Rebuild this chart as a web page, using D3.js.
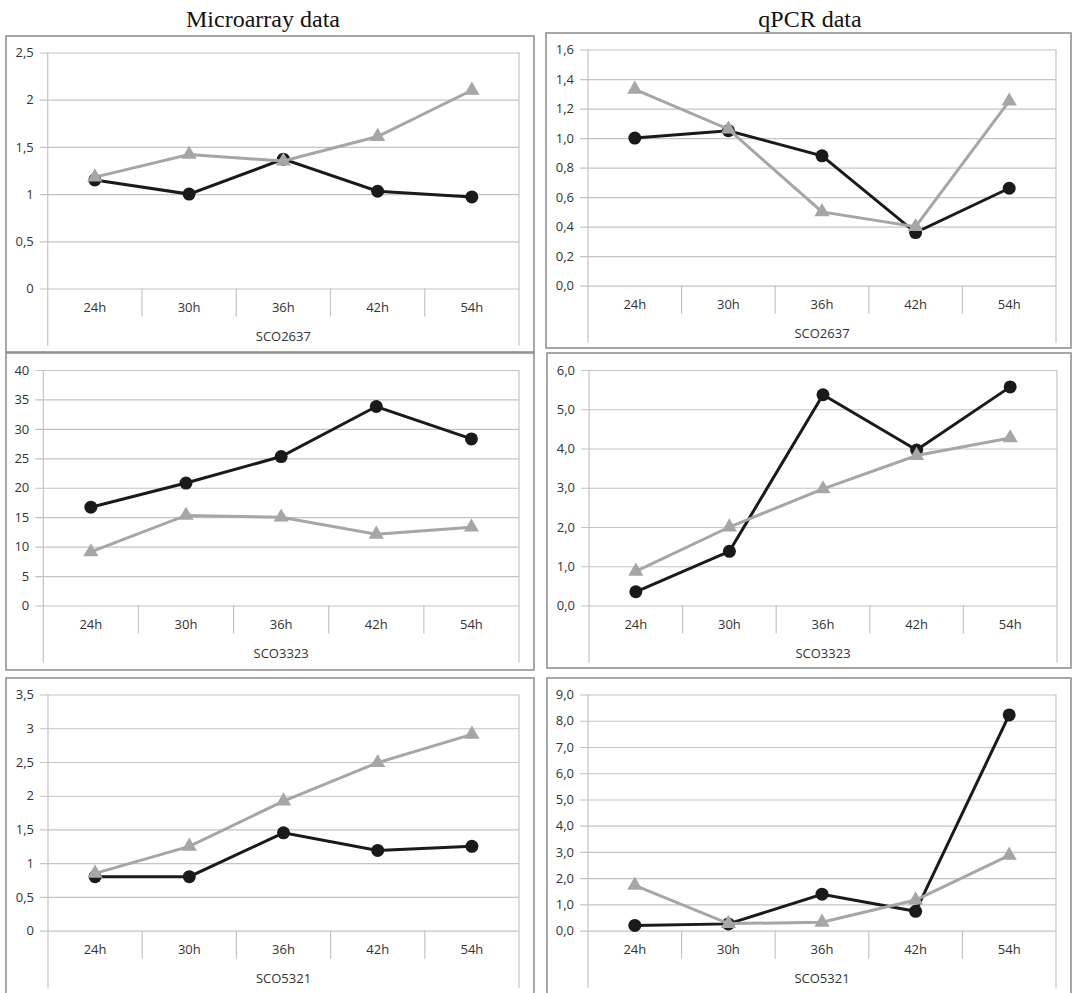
<!DOCTYPE html>
<html>
<head>
<meta charset="utf-8">
<script src="https://cdn.jsdelivr.net/npm/d3@7"></script>
<style>
  body { margin: 0; background: #fff; }
  .tick text { fill: #333; font-family: "Open Sans", sans-serif; font-size: 13px; }
  .catLabel, .groupLabel { fill: #333; font-family: "Open Sans", sans-serif; font-size: 13px; }
  .colTitle { fill: #111; font-family: "Liberation Serif", serif; font-size: 24px; }
</style>
</head>
<body>
<div id="chart"></div>
<script>
// data
var timepoints = ["24h", "30h", "36h", "42h", "54h"];
var columnTitles = ["Microarray data", "qPCR data"];
var genes = ["SCO2637", "SCO3323", "SCO5321"];

// black line with circles / gray line with triangles
var microSCO2637Black = [1.15, 1.0, 1.37, 1.03, 0.97];
var microSCO2637Gray = [1.18, 1.42, 1.35, 1.61, 2.10];
var qpcrSCO2637Black = [1.00, 1.05, 0.88, 0.36, 0.66];
var qpcrSCO2637Gray = [1.33, 1.06, 0.50, 0.40, 1.25];

var microSCO3323Black = [16.7, 20.8, 25.3, 33.8, 28.3];
var microSCO3323Gray = [9.1, 15.3, 15.0, 12.1, 13.3];
var qpcrSCO3323Black = [0.35, 1.38, 5.37, 3.96, 5.57];
var qpcrSCO3323Gray = [0.87, 2.00, 2.97, 3.82, 4.27];

var microSCO5321Black = [0.80, 0.80, 1.45, 1.19, 1.25];
var microSCO5321Gray = [0.85, 1.25, 1.92, 2.49, 2.91];
var qpcrSCO5321Black = [0.20, 0.26, 1.39, 0.74, 8.22];
var qpcrSCO5321Gray = [1.73, 0.27, 0.32, 1.17, 2.87];

// y tick values and labels
var ticksMicro2637 = [0, 0.5, 1, 1.5, 2, 2.5];
var labelsMicro2637 = ["0", "0,5", "1", "1,5", "2", "2,5"];
var ticksQpcr2637 = [0, 0.2, 0.4, 0.6, 0.8, 1.0, 1.2, 1.4, 1.6];
var labelsQpcr2637 = ["0,0", "0,2", "0,4", "0,6", "0,8", "1,0", "1,2", "1,4", "1,6"];
var ticksMicro3323 = [0, 5, 10, 15, 20, 25, 30, 35, 40];
var labelsMicro3323 = ["0", "5", "10", "15", "20", "25", "30", "35", "40"];
var ticksQpcr3323 = [0, 1, 2, 3, 4, 5, 6];
var labelsQpcr3323 = ["0,0", "1,0", "2,0", "3,0", "4,0", "5,0", "6,0"];
var ticksMicro5321 = [0, 0.5, 1, 1.5, 2, 2.5, 3, 3.5];
var labelsMicro5321 = ["0", "0,5", "1", "1,5", "2", "2,5", "3", "3,5"];
var ticksQpcr5321 = [0, 1, 2, 3, 4, 5, 6, 7, 8, 9];
var labelsQpcr5321 = ["0,0", "1,0", "2,0", "3,0", "4,0", "5,0", "6,0", "7,0", "8,0", "9,0"];

// panels: box = frame, plot = left, top (max value), right, bottom (zero)
var panels = [
  { gene: 0, black: microSCO2637Black, gray: microSCO2637Gray, ticks: ticksMicro2637, labels: labelsMicro2637,
    box: [6, 36, 534, 352], plot: [47.7, 52.5, 519, 288.5] },
  { gene: 0, black: qpcrSCO2637Black, gray: qpcrSCO2637Gray, ticks: ticksQpcr2637, labels: labelsQpcr2637,
    box: [546, 33, 1071, 348], plot: [588, 49.5, 1056, 285.7] },
  { gene: 1, black: microSCO3323Black, gray: microSCO3323Gray, ticks: ticksMicro3323, labels: labelsMicro3323,
    box: [6, 353, 534, 670], plot: [43.3, 370, 519, 605.5] },
  { gene: 1, black: qpcrSCO3323Black, gray: qpcrSCO3323Gray, ticks: ticksQpcr3323, labels: labelsQpcr3323,
    box: [547, 353, 1071, 668], plot: [589, 370, 1057, 605.5] },
  { gene: 2, black: microSCO5321Black, gray: microSCO5321Gray, ticks: ticksMicro5321, labels: labelsMicro5321,
    box: [6, 678, 534, 1000], plot: [48, 694.5, 519, 930.7] },
  { gene: 2, black: qpcrSCO5321Black, gray: qpcrSCO5321Gray, ticks: ticksQpcr5321, labels: labelsQpcr5321,
    box: [547, 678, 1071, 1000], plot: [588, 694.5, 1056, 930.7] }
];

var svg = d3.select("#chart")
  .append("svg")
  .attr("width", 1072)
  .attr("height", 993);

svg.append("rect").attr("width", 1072).attr("height", 993).attr("fill", "#fff");

// column titles
svg.append("text").attr("class", "colTitle")
  .attr("x", 263).attr("y", 27).attr("text-anchor", "middle").text(columnTitles[0]);
svg.append("text").attr("class", "colTitle")
  .attr("x", 810).attr("y", 27).attr("text-anchor", "middle").text(columnTitles[1]);

var gridColor = "#c4c4c4";

panels.forEach(function(p) {
  // frame
  svg.append("rect")
    .attr("x", p.box[0]).attr("y", p.box[1])
    .attr("width", p.box[2] - p.box[0]).attr("height", p.box[3] - p.box[1])
    .attr("fill", "none").attr("stroke", "#8a8a8a").attr("stroke-width", 1.5);

  var w = p.plot[2] - p.plot[0];
  var h = p.plot[3] - p.plot[1];
  var g = svg.append("g").attr("transform", `translate(${p.plot[0]}, ${p.plot[1]})`);

  var x = d3.scaleBand().domain(timepoints).range([0, w]);
  var y = d3.scaleLinear().domain([0, d3.max(p.ticks)]).range([h, 0]);

  // y axis with gridlines (tick stub sticks out 8px on the left)
  var yAxis = d3.axisLeft(y)
    .tickValues(p.ticks)
    .tickFormat((d, i) => p.labels[i])
    .tickSizeInner(-(w + 8))
    .tickSizeOuter(0)
    .tickPadding(6);
  var ya = g.append("g").attr("transform", "translate(-8, 0)").call(yAxis);
  ya.select(".domain").remove();
  ya.selectAll(".tick line").attr("stroke", gridColor).attr("stroke-width", 1.2);

  // vertical axis line and right end line (span category + group rows)
  [0, w].forEach(function(xx) {
    g.append("line")
      .attr("x1", xx).attr("x2", xx)
      .attr("y1", 0).attr("y2", h + 57)
      .attr("stroke", gridColor).attr("stroke-width", 1.2);
  });
  // category separators
  timepoints.slice(1).forEach(function(t) {
    g.append("line")
      .attr("x1", x(t)).attr("x2", x(t))
      .attr("y1", h).attr("y2", h + 28)
      .attr("stroke", gridColor).attr("stroke-width", 1.2);
  });

  g.selectAll(".catLabel")
    .data(timepoints)
    .enter()
    .append("text")
    .attr("class", "catLabel")
    .attr("x", d => x(d) + x.bandwidth() / 2)
    .attr("y", h + 23)
    .attr("text-anchor", "middle")
    .text(d => d);

  g.append("text")
    .attr("class", "groupLabel")
    .attr("x", w / 2)
    .attr("y", h + 52)
    .attr("text-anchor", "middle")
    .text(genes[p.gene]);

  var line = d3.line()
    .x((d, i) => x(timepoints[i]) + x.bandwidth() / 2)
    .y(d => y(d));

  // black series (circles)
  g.append("path")
    .datum(p.black)
    .attr("d", line)
    .attr("fill", "none")
    .attr("stroke", "#1a1a1a")
    .attr("stroke-width", 3);

  g.selectAll(".dot")
    .data(p.black)
    .enter()
    .append("circle")
    .attr("cx", (d, i) => x(timepoints[i]) + x.bandwidth() / 2)
    .attr("cy", d => y(d))
    .attr("r", 6.5)
    .attr("fill", "#1a1a1a");

  // gray series (triangles)
  g.append("path")
    .datum(p.gray)
    .attr("d", line)
    .attr("fill", "none")
    .attr("stroke", "#a6a6a6")
    .attr("stroke-width", 3);

  var tri = d3.symbol().type(d3.symbolTriangle).size(100);
  g.selectAll(".tri")
    .data(p.gray)
    .enter()
    .append("path")
    .attr("d", tri)
    .attr("transform", (d, i) => `translate(${x(timepoints[i]) + x.bandwidth() / 2}, ${y(d)})`)
    .attr("fill", "#a6a6a6");
});
</script>
</body>
</html>
